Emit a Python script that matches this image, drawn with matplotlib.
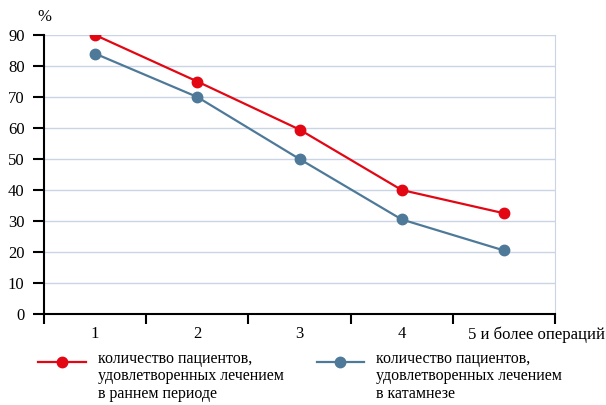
import matplotlib.pyplot as plt
import matplotlib.transforms as mtransforms
import numpy as np

categories = ['1', '2', '3', '4', '5 и более операций']
early = [90, 75, 59.5, 40, 32.5]
followup = [84, 70, 50, 30.5, 20.5]
yticks = [0, 10, 20, 30, 40, 50, 60, 70, 80, 90]
labels = ['количество пациентов,\nудовлетворенных лечением\nв раннем периоде',
          'количество пациентов,\nудовлетворенных лечением\nв катамнезе']

red = '#e30613'
blue = '#4e7999'
grid_c = '#c9d5e4'

plt.rcParams['font.family'] = ['Liberation Serif', 'DejaVu Serif']

fig = plt.figure(figsize=(6.06, 4.05), dpi=100)
ax = fig.add_axes([44/606, 1 - 314/405, (555 - 44)/606, (314 - 35)/405])

x = np.arange(1, len(categories) + 1)
ax.plot(x, early, '-o', color=red, lw=1.6, ms=7.5, label=labels[0], zorder=3)
ax.plot(x, followup, '-o', color=blue, lw=1.6, ms=7.5, label=labels[1], zorder=3)

ax.set_xlim(0.5, len(categories) + 0.5)
ax.set_ylim(0, 90)
ax.set_yticks(yticks)
ax.yaxis.grid(True, color=grid_c, lw=1)
ax.set_axisbelow(True)

# ticks at category boundaries, labels at centres
ax.set_xticks(np.arange(0.5, len(categories) + 1, 1))
ax.set_xticklabels([])
ax.set_xticks(x, minor=True)
ax.set_xticklabels(categories, minor=True)
ax.tick_params(axis='x', which='major', length=7, width=1.5, color='black', direction='out')
ax.tick_params(axis='x', which='minor', length=0, pad=9, labelsize=12)
ax.tick_params(axis='y', length=8, width=1.5, labelsize=12, pad=6)

# last label is pushed right, as in the original
last = ax.get_xticklabels(minor=True)[-1]
last.set_transform(last.get_transform() +
                   mtransforms.ScaledTranslation(0.33, 0, fig.dpi_scale_trans))

ax.spines['top'].set_visible(False)
ax.spines['right'].set_color(grid_c)
ax.spines['left'].set_linewidth(1.5)
ax.spines['bottom'].set_linewidth(1.5)

fig.text(44/606, 1 - 17/405, '%', ha='center', va='center', fontsize=12)

leg = fig.legend(loc='lower left', bbox_to_anchor=(38/606, -12/405), ncol=2,
                 frameon=False, fontsize=11.5, handlelength=3.0, handleheight=6.9,
                 handletextpad=0.75, columnspacing=2.05, borderaxespad=0, borderpad=0,
                 labelspacing=0)
for t in leg.get_texts():
    t.set_linespacing(1.1)

fig.savefig('out.png', dpi=100)
